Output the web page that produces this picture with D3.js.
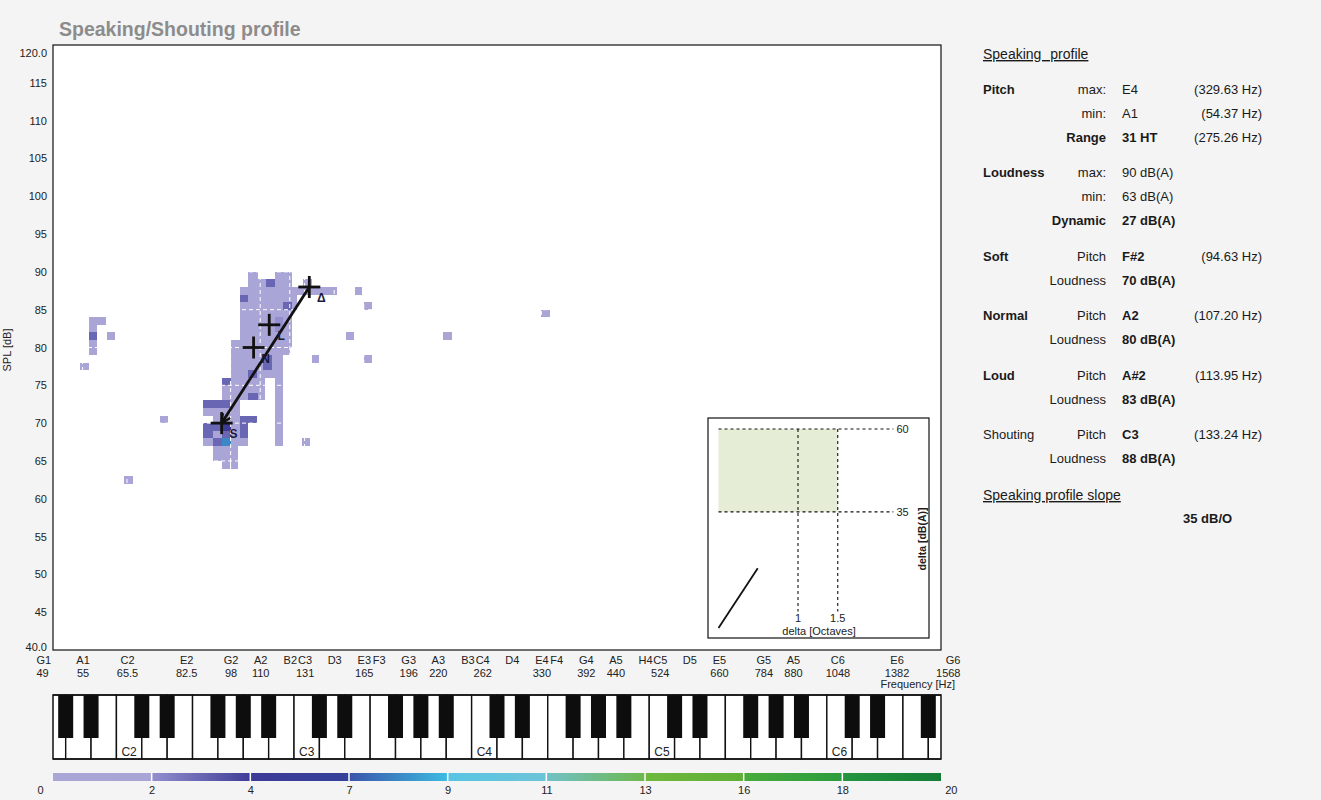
<!DOCTYPE html>
<html><head><meta charset="utf-8">
<script src="https://cdn.jsdelivr.net/npm/d3@7"></script>
<style>
body{margin:0;background:#f4f4f4;}
svg text{font-family:"Liberation Sans",Arial,Helvetica,sans-serif;}
</style></head>
<body><svg id="chart" width="1321" height="800"></svg>
<script>
// ---------------- DATA ----------------
const chartTitle = "Speaking/Shouting profile";
const noteNames = ["G1","A1","C2","E2","G2","A2","B2","C3","D3","E3","F3","G3","A3","B3","C4","D4","E4","F4","G4","A5","H4","C5","D5","E5","G5","A5","C6","E6","G6"];
const noteFreqs = [49,55,65.41,82.41,98,110,123.47,130.81,146.83,164.81,174.61,196,220,246.94,261.63,293.66,329.63,349.23,392,440,493.88,523.25,587.33,659.26,783.99,880,1046.5,1318.51,1568];
const freqLabels = ["49","55","65.5","82.5","98","110","","131","","165","","196","220","","262","","330","","392","440","","524","","660","784","880","1048","1382","1568"];
const dbTicks = [40,45,50,55,60,65,70,75,80,85,90,95,100,105,110,115,120];

// heat-map cells: pitch in semitones above G1, level in dB, count of occurrences
const cellNoteFrom = [1.8,2.45,2.45,2.45,3.65,4.8,7.25,16.8,17.5,19.8,20.4,21.0,21.0,26.35,32.95,16.15,16.9,
  13.2,15.0,13.2,14.4,12.65,16.15,12.65,15.55,15.0,12.05,12.05,12.05,14.2,13.2,15.0,11.45,12.0,11.45,13.2,10.15,11.95,10.15,10.8,12.65,10.15,10.15,10.8,11.45,11.45,12.65,10.8,11.45,10.8,11.45,12.05];
const cellNoteTo   = [2.4,3.55,3.0,3.0,4.2,5.4,7.8,17.35,18.0,20.35,20.9,21.55,21.55,26.95,33.55,19.2,17.5,
  13.85,16.15,16.15,15.0,16.15,16.5,13.2,16.15,15.55,16.0,12.65,15.55,14.8,13.8,15.55,12.0,14.3,14.3,13.85,11.95,12.65,12.65,12.65,13.8,13.2,10.8,11.45,12.0,12.0,13.2,11.45,12.0,12.5,11.95,12.5];
const cellDbFrom   = [77,83,79,81,81,62,70,67,78,81,87,85,78,81,84,87,88,
  89,89,88,88,80,85,86,85,82,79,80,76,77,76,67,75,75,73,73,72,72,71,70,70,67,68,69,69,68,68,67,67,65,64,64];
const cellDbTo     = [78,84,83,82,82,63,71,68,79,82,88,86,79,82,85,88,89,
  90,90,89,89,88,87,87,86,84,80,81,79,79,77,76,76,76,75,74,73,73,72,71,71,70,70,70,70,69,70,68,68,67,65,65];
const cellCount    = [1,1,1,3,1,1,1,1,1,1,1,1,1,1,1,1,1,
  1,1,1,3,1,1,3,3,2,1,1,1,3,3,1,3,1,1,3,3,1,1,1,3,1,3,3,4,3,3,3,8,1,1,1];

// speaking profile points
const profileNames = ["Soft","Normal","Loud","Shouting"];
const profileFreqs = [94.63,107.20,113.95,133.24];
const profileDb    = [70,80,83,88];
const profileMarks = ["S","N","L","\u0394"];

// colour bar
const cbValues = [0,2,4,7,9,11,13,16,18,20];
const cbStart = ["#aaa6d7","#938fce","#3d3b96","#3a55ab","#58c5e4","#70c1c8","#6fb83e","#48ab3b","#25953f"];
const cbEnd   = ["#a8a4d6","#3f3c98","#34409b","#3dbbe2","#6cc4d8","#6db84c","#5eb034","#2c9b3d","#157c36"];

// inset
const insetZoneOct = [0,1.5];
const insetZoneDb = [35,60];
const insetOctTicks = [1,1.5];
const insetDbTicks = [60,35];

// right panel
const panelGroup = ["Pitch","","","Loudness","","","Soft","","Normal","","Loud","","Shouting",""];
const panelKey   = ["max:","min:","Range","max:","min:","Dynamic","Pitch","Loudness","Pitch","Loudness","Pitch","Loudness","Pitch","Loudness"];
const panelValue = ["E4","A1","31 HT","90 dB(A)","63 dB(A)","27 dB(A)","F#2","70 dB(A)","A2","80 dB(A)","A#2","83 dB(A)","C3","88 dB(A)"];
const panelHz    = ["(329.63 Hz)","(54.37 Hz)","(275.26 Hz)","","","","(94.63 Hz)","","(107.20 Hz)","","(113.95 Hz)","","(133.24 Hz)",""];
const slopeValue = "35 dB/O";

// ---------------- LAYOUT ----------------
const X0=53, X1=941, Y0=45, Y1=650;
const svg = d3.select("#chart");
const x = d3.scaleLog().domain([49,1568]).range([X0,X1]);
const y = d3.scaleLinear().domain([40,120]).range([Y1,Y0]);
const semiHz = s => 49*Math.pow(2,s/12);

function countColor(c){
  let i = 0;
  while(i < cbValues.length-2 && c >= cbValues[i+1]) i++;
  const t = (c-cbValues[i])/(cbValues[i+1]-cbValues[i]);
  return d3.interpolateRgb(cbStart[i], cbEnd[i])(t);
}

svg.append("text").attr("x",59).attr("y",36).text(chartTitle)
  .attr("font-size","19.5px").attr("font-weight","bold").attr("fill","#8c8c8c");

svg.append("rect").attr("x",X0).attr("y",Y0).attr("width",X1-X0).attr("height",Y1-Y0).attr("fill","#fff");

const plot = svg.append("g");
const cells = cellCount.map((c,i)=>({s0:cellNoteFrom[i],s1:cellNoteTo[i],d0:cellDbFrom[i],d1:cellDbTo[i],c}))
  .sort((a,b)=>a.c-b.c);
plot.selectAll("rect.cell").data(cells).join("rect").attr("class","cell")
  .attr("x",d=>x(semiHz(d.s0))).attr("width",d=>x(semiHz(d.s1))-x(semiHz(d.s0)))
  .attr("y",d=>y(d.d1)).attr("height",d=>y(d.d0)-y(d.d1))
  .attr("fill",d=>countColor(d.c)).attr("shape-rendering","crispEdges");

// white dashed grid over cells
plot.selectAll("line.hg").data(dbTicks.slice(1,-1)).join("line").attr("class","hg")
  .attr("x1",X0).attr("x2",X1).attr("y1",d=>y(d)).attr("y2",d=>y(d))
  .attr("stroke","#fff").attr("stroke-width",1).attr("stroke-dasharray","4,3");
plot.selectAll("line.vg").data(noteFreqs.slice(1,-1)).join("line").attr("class","vg")
  .attr("y1",Y0).attr("y2",Y1).attr("x1",d=>x(d)).attr("x2",d=>x(d))
  .attr("stroke","#fff").attr("stroke-width",1).attr("stroke-dasharray","4,3");

svg.append("rect").attr("x",X0).attr("y",Y0).attr("width",X1-X0).attr("height",Y1-Y0)
  .attr("fill","none").attr("stroke","#111").attr("stroke-width",1.2);

// profile line with arrow to soft
const defs = svg.append("defs");
defs.append("marker").attr("id","arr").attr("viewBox","0 0 10 10").attr("refX",9).attr("refY",5)
  .attr("markerWidth",4).attr("markerHeight",4).attr("orient","auto")
  .append("path").attr("d","M1,1 L9,5 L1,9").attr("fill","none").attr("stroke","#111").attr("stroke-width",2.2);
const pts = profileFreqs.map((f,i)=>[x(f),y(profileDb[i])]);
svg.append("line").attr("x1",pts[3][0]).attr("y1",pts[3][1]).attr("x2",pts[0][0]).attr("y2",pts[0][1])
  .attr("stroke","#111").attr("stroke-width",2.8).attr("marker-end","url(#arr)");
const cross = svg.selectAll("g.cross").data(pts).join("g").attr("class","cross")
  .attr("transform",d=>`translate(${d[0]},${d[1]})`);
cross.append("line").attr("x1",-11).attr("x2",11).attr("stroke","#111").attr("stroke-width",2.8);
cross.append("line").attr("y1",-11).attr("y2",11).attr("stroke","#111").attr("stroke-width",2.8);
cross.append("text").attr("x",12).attr("y",11).attr("dy","0.35em").attr("text-anchor","middle")
  .attr("font-size","12px").attr("font-weight","bold").attr("fill","#1a1a3a").text((d,i)=>profileMarks[i]);

// Y axis
const yAxis = svg.append("g").attr("transform",`translate(${X0},0)`)
  .call(d3.axisLeft(y).tickValues(dbTicks).tickSize(0).tickPadding(6)
    .tickFormat(d=> (d===40||d===120) ? d.toFixed(1) : d));
yAxis.select(".domain").remove();
yAxis.selectAll("text").attr("font-size","11px").attr("fill","#222")
  .attr("font-family",'"Liberation Sans",Arial,sans-serif');
yAxis.selectAll(".tick").filter(d=>d===120).select("text").attr("dy","1.05em");
yAxis.selectAll(".tick").filter(d=>d===40).select("text").attr("dy","0.0em");
svg.append("text").attr("transform","translate(11,350) rotate(-90)").attr("text-anchor","middle")
  .attr("font-size","11px").attr("fill","#222").text("SPL [dB]");

// X axis (note names + frequencies)
function styleX(g, labels){
  g.select(".domain").remove();
  g.selectAll("text").attr("font-size","11px").attr("fill","#222")
   .attr("font-family",'"Liberation Sans",Arial,sans-serif');
  const n = labels.length;
  g.selectAll(".tick").filter((d,i)=>i===0).select("text").attr("text-anchor","start").attr("x",-17);
  g.selectAll(".tick").filter((d,i)=>i===n-1).select("text").attr("text-anchor","end").attr("x",19);
}
const xAxisN = svg.append("g").attr("transform",`translate(0,${Y1})`)
  .call(d3.axisBottom(x).tickValues(noteFreqs).tickSize(0).tickPadding(6).tickFormat((d,i)=>noteNames[i]));
styleX(xAxisN, noteNames);
const xAxisF = svg.append("g").attr("transform",`translate(0,${Y1})`)
  .call(d3.axisBottom(x).tickValues(noteFreqs).tickSize(0).tickPadding(19).tickFormat((d,i)=>freqLabels[i]));
styleX(xAxisF, freqLabels);
svg.append("text").attr("x",955).attr("y",688).attr("text-anchor","end")
  .attr("font-size","11px").attr("fill","#222").text("Frequency [Hz]");

// inset
const ix = d3.scaleLinear().domain([0,1]).range([718.5,798]);
const iy = d3.scaleLinear().domain([0,60]).range([628,429]);
const ins = svg.append("g");
ins.append("rect").attr("x",708).attr("y",418).attr("width",221).attr("height",220)
  .attr("fill","#fff").attr("stroke","#111").attr("stroke-width",1.2);
ins.append("rect").attr("x",ix(insetZoneOct[0])).attr("width",ix(insetZoneOct[1])-ix(insetZoneOct[0]))
  .attr("y",iy(insetZoneDb[1])).attr("height",iy(insetZoneDb[0])-iy(insetZoneDb[1])).attr("fill","#e6edd6");
ins.selectAll("line.ih").data(insetDbTicks).join("line").attr("class","ih")
  .attr("x1",ix(0)).attr("x2",ix(2.2)).attr("y1",d=>iy(d)).attr("y2",d=>iy(d))
  .attr("stroke","#111").attr("stroke-width",1.1).attr("stroke-dasharray","3,3");
ins.selectAll("line.iv").data(insetOctTicks).join("line").attr("class","iv")
  .attr("x1",d=>ix(d)).attr("x2",d=>ix(d)).attr("y1",iy(60)).attr("y2",iy(5))
  .attr("stroke","#111").attr("stroke-width",1.1).attr("stroke-dasharray","3,3");
ins.selectAll("text.idb").data(insetDbTicks).join("text").attr("class","idb")
  .attr("x",ix(2.2)+3).attr("y",d=>iy(d)).attr("dy","0.35em").attr("font-size","11px").attr("fill","#222").text(d=>d);
ins.selectAll("text.io").data(insetOctTicks).join("text").attr("class","io")
  .attr("x",d=>ix(d)).attr("y",622).attr("text-anchor","middle").attr("font-size","11px").attr("fill","#222").text(d=>d);
ins.append("text").attr("x",819).attr("y",635).attr("text-anchor","middle").attr("font-size","11px")
  .attr("fill","#222").text("delta [Octaves]");
ins.append("text").attr("transform","translate(926,539) rotate(-90)").attr("text-anchor","middle")
  .attr("font-size","10.5px").attr("font-weight","bold").attr("fill","#222").text("delta [dB(A)]");
const dOct = Math.log2(profileFreqs[3]/profileFreqs[0]);
const dDb = profileDb[3]-profileDb[0];
ins.append("line").attr("x1",ix(0)).attr("y1",iy(0)).attr("x2",ix(dOct)).attr("y2",iy(dDb))
  .attr("stroke","#111").attr("stroke-width",1.8);

// piano keyboard
const kx = d3.scaleLinear().domain([0,35]).range([X0,X1]);
const letters = "GABCDEF";
const keys = d3.range(36);
svg.append("clipPath").attr("id","kclip").append("rect").attr("x",X0).attr("y",690).attr("width",X1-X0).attr("height",75);
const kb = svg.append("g").attr("clip-path","url(#kclip)");
kb.selectAll("rect.wk").data(keys).join("rect").attr("class","wk")
  .attr("x",d=>kx(d-0.5)).attr("width",kx(1)-kx(0)).attr("y",695).attr("height",64)
  .attr("fill","#fff").attr("stroke","#111").attr("stroke-width",1.4);
kb.selectAll("rect.bk").data(keys.filter(i=>"CDFGA".includes(letters[i%7]))).join("rect").attr("class","bk")
  .attr("x",d=>kx(d+0.5)-7.5).attr("width",15).attr("y",695).attr("height",43).attr("fill","#0d0d0d");
kb.selectAll("text.kl").data(keys.filter(i=>letters[i%7]==="C")).join("text").attr("class","kl")
  .attr("x",d=>kx(d)).attr("y",756).attr("text-anchor","middle").attr("font-size","12px").attr("fill","#222")
  .text(d=>"C"+(1+Math.floor((d+4)/7)));
svg.append("rect").attr("x",X0).attr("y",695).attr("width",X1-X0).attr("height",64)
  .attr("fill","none").attr("stroke","#111").attr("stroke-width",1.5);

// colour bar
const cb = d3.scalePoint().domain(cbValues).range([X0,X1]);
cbStart.forEach((c,i)=>{
  const gr = defs.append("linearGradient").attr("id","cg"+i);
  gr.append("stop").attr("offset","0%").attr("stop-color",c);
  gr.append("stop").attr("offset","100%").attr("stop-color",cbEnd[i]);
});
svg.selectAll("rect.cb").data(cbValues.slice(0,-1)).join("rect").attr("class","cb")
  .attr("x",d=>cb(d)).attr("width",(d,i)=>cb(cbValues[i+1])-cb(d)).attr("y",773).attr("height",8)
  .attr("fill",(d,i)=>`url(#cg${i})`);
svg.selectAll("line.cbs").data(cbValues.slice(1,-1)).join("line").attr("class","cbs")
  .attr("x1",d=>cb(d)).attr("x2",d=>cb(d)).attr("y1",773).attr("y2",781).attr("stroke","#fff").attr("stroke-width",1.5);
const cbAxis = svg.append("g").attr("transform","translate(0,781)")
  .call(d3.axisBottom(cb).tickSize(0).tickPadding(5));
cbAxis.select(".domain").remove();
cbAxis.selectAll("text").attr("font-size","11px").attr("fill","#222").attr("font-family",'"Liberation Sans",Arial,sans-serif');
cbAxis.selectAll(".tick").filter(d=>d===0).select("text").attr("text-anchor","start").attr("x",-16);
cbAxis.selectAll(".tick").filter(d=>d===20).select("text").attr("text-anchor","end").attr("x",16);

// right panel
const rp = svg.append("g").attr("fill","#1a1a1a").attr("font-size","13px");
rp.append("text").attr("x",983).attr("y",59).attr("font-size","14px").attr("text-decoration","underline")
  .attr("word-spacing","5px").text("Speaking profile");
let ry = 89;
const rowY = panelKey.map((k,i)=>{ if(i>0) ry += panelGroup[i] ? 35.5 : 24; return ry; });
const boldGroup = new Set(["Pitch","Loudness","Soft","Normal","Loud"]);
const boldKey = new Set(["Range","Dynamic"]);
const plainVal = new Set([0,1,3,4]);
panelKey.forEach((k,i)=>{
  const yy = rowY[i];
  if(panelGroup[i]) rp.append("text").attr("x",983).attr("y",yy).attr("dy","0.35em")
    .attr("font-weight",boldGroup.has(panelGroup[i])?"bold":"normal").text(panelGroup[i]);
  rp.append("text").attr("x",1106).attr("y",yy).attr("dy","0.35em").attr("text-anchor","end")
    .attr("font-weight",boldKey.has(k)?"bold":"normal").text(k);
  rp.append("text").attr("x",1122).attr("y",yy).attr("dy","0.35em")
    .attr("font-weight",plainVal.has(i)?"normal":"bold").text(panelValue[i]);
  if(panelHz[i]) rp.append("text").attr("x",1262).attr("y",yy).attr("dy","0.35em").attr("text-anchor","end").text(panelHz[i]);
});
rp.append("text").attr("x",983).attr("y",500).attr("font-size","14px").attr("text-decoration","underline")
  .text("Speaking profile slope");
rp.append("text").attr("x",1183).attr("y",518).attr("dy","0.35em").attr("font-weight","bold").text(slopeValue);
</script>
</body></html>
